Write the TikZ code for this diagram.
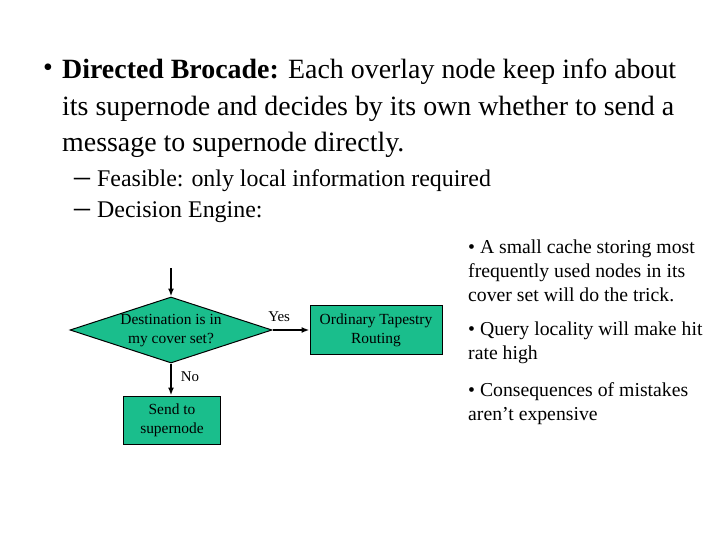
\documentclass[tikz,border=0pt]{standalone}
\usepackage{fontspec}
\setmainfont{Liberation Serif}
\usetikzlibrary{shapes.geometric,arrows.meta}
\definecolor{boxgreen}{RGB}{26,190,140}
\begin{document}
\begin{tikzpicture}[x=1bp,y=-1bp,
  flowbox/.style={draw=black,line width=1pt,fill=boxgreen,align=center,
    font=\fontsize{15.5}{19}\selectfont,inner sep=0pt},
  arr/.style={-{Latex[length=8pt,width=6pt]},line width=1.6pt},
  lbl/.style={font=\fontsize{15}{16}\selectfont,inner sep=0pt},
  maintext/.style={anchor=base west,inner sep=0pt,font=\fontsize{28}{36}\selectfont},
  subtext/.style={anchor=base west,inner sep=0pt,font=\fontsize{24}{30}\selectfont},
  dashmark/.style={anchor=base west,inner sep=0pt,font=\fontsize{32}{32}\selectfont},
  sidetext/.style={anchor=base west,inner sep=0pt,font=\fontsize{19.8}{24}\selectfont}]
\useasboundingbox (0,0) rectangle (720,540);

% main bullet
\node[inner sep=0pt,font=\fontsize{28}{28}\selectfont] (b0) at (48,70) {•};
\node[maintext] (m1) at (62,79) {\textbf{Directed Brocade:} Each overlay node keep info about};
\node[maintext] (m2) at (62,115.5) {its supernode and decides by its own whether to send a};
\node[maintext] (m3) at (62,152) {message to supernode directly.};

% sub items
\node[dashmark] (d1) at (74,187) {–};
\node[subtext] (s1) at (97,187) {Feasible: only local information required};
\node[dashmark] (d2) at (74,218) {–};
\node[subtext] (s2) at (97,218) {Decision Engine:};

% side notes
\node[sidetext] (n1) at (468,254) {• A small cache storing most};
\node[sidetext] (n2) at (468,277.5) {frequently used nodes in its};
\node[sidetext] (n3) at (468,301) {cover set will do the trick.};
\node[sidetext] (n4) at (468,335) {• Query locality will make hit};
\node[sidetext] (n5) at (468,359) {rate high};
\node[sidetext] (n6) at (468,396) {• Consequences of mistakes};
\node[sidetext] (n7) at (468,420) {aren’t expensive};

% flowchart
\coordinate (start) at (171,268);
\node[flowbox,diamond,minimum width=202bp,minimum height=66bp] (dec) at (171,330)
  {\makebox[0pt][c]{\begin{tabular}{@{}c@{}}Destination is in\\[0pt]my cover set?\end{tabular}}};
\node[flowbox,minimum width=132bp,minimum height=49bp] (route) at (376,330)
  {Ordinary Tapestry\\Routing};
\node[flowbox,minimum width=97bp,minimum height=48bp] (send) at (172,420)
  {Send to\\supernode};

\draw[arr] (start) -- (dec.north);
\draw[arr] (dec.east) -- node[lbl,pos=0.18,above=8bp] (yes) {Yes} (route.west);
\draw[arr] (dec.south) -- node[lbl,pos=0.42,right=9bp] (no) {No} (dec.south |- send.north);
\end{tikzpicture}
\end{document}
